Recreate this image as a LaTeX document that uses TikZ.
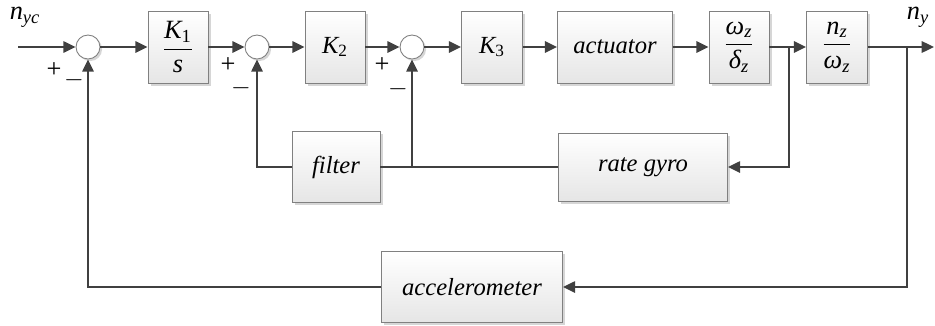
\documentclass[tikz,border=0pt]{standalone}
\usepackage{amsmath}
\usepackage{fontspec}
\setmainfont{Liberation Serif}
\usetikzlibrary{arrows.meta,positioning,calc,shadows}

\tikzset{
  block/.style={draw=black!50, line width=0.5pt, top color=white, bottom color=black!10,
    drop shadow={shadow xshift=1.6pt, shadow yshift=-1.6pt, fill=black!40, opacity=0.4},
    minimum height=1.44cm, inner sep=0pt, font=\fontsize{14}{16}\selectfont\itshape},
  fracblock/.style={block, font=\fontsize{15}{17}\selectfont\itshape},
  sumnode/.style={circle, draw=black!50, line width=0.5pt, fill=white, minimum size=0.48cm, inner sep=0pt,
    drop shadow={shadow xshift=1.2pt, shadow yshift=-1.2pt, fill=black!40, opacity=0.4}},
  conn/.style={draw=black!75, line width=1.1pt, -{Triangle[length=7pt,width=6.5pt]}},
  wire/.style={draw=black!75, line width=1.1pt},
  sign/.style={inner sep=0pt, font=\fontsize{15}{17}\selectfont},
  sig/.style={inner sep=0pt, font=\fontsize{15}{17}\selectfont\itshape}
}

\begin{document}
\begin{tikzpicture}[x=0.02cm, y=-0.02cm]
    \useasboundingbox (0,0) rectangle (935,325);

    % Forward path
    \coordinate (in) at (18,47);
    \node[sumnode] (s1) at (88,47) {};
    \node[fracblock, minimum width=1.2cm] (k1) at (178,47) {$\dfrac{\text{K\textsubscript{\upshape 1}}}{\text{s}}$};
    \node[sumnode] (s2) at (257,47) {};
    \node[block, minimum width=1.2cm] (k2) at (335,47) {K\textsubscript{\upshape 2}};
    \node[sumnode] (s3) at (412,47) {};
    \node[block, minimum width=1.22cm] (k3) at (492,47) {K\textsubscript{\upshape 3}};
    \node[block, minimum width=2.3cm] (act) at (615,47) {actuator};
    \node[fracblock, minimum width=1.2cm] (wd) at (739,47) {$\dfrac{\text{ω\textsubscript{z}}}{\text{δ\textsubscript{z}}}$};
    \node[fracblock, minimum width=1.22cm] (nw) at (837,47) {$\dfrac{\text{n\textsubscript{z}}}{\text{ω\textsubscript{z}}}$};
    \coordinate (out) at (934,47);
    \coordinate (b1) at (789,47);
    \coordinate (b2) at (907,47);

    % Feedback blocks
    \node[block, minimum width=1.76cm, minimum height=1.42cm] (filt) at (336,167) {filter};
    \node[block, minimum width=3.38cm, minimum height=1.36cm] (rg) at (643,167) {rate gyro};
    \node[block, minimum width=3.62cm, minimum height=1.42cm] (acc) at (472,287) {accelerometer};
    \coordinate (j) at (s3 |- filt);

    % Signals and signs
    \node[sig] (nyc) at (25,17) {n\textsubscript{yc}};
    \node[sig] (ny) at (918,17) {n\textsubscript{y}};
    \node[sign] (p1) at (54,70) {+};
    \node[sign] (m1) at (74,80) {$-$};
    \node[sign] (p2) at (228,65) {+};
    \node[sign] (m2) at (241,88) {$-$};
    \node[sign] (p3) at (382,65) {+};
    \node[sign] (m3) at (398,89) {$-$};

    % Connections
    \draw[conn] (in) -- (s1);
    \draw[conn] (s1) -- (k1);
    \draw[conn] (k1) -- (s2);
    \draw[conn] (s2) -- (k2);
    \draw[conn] (k2) -- (s3);
    \draw[conn] (s3) -- (k3);
    \draw[conn] (k3) -- (act);
    \draw[conn] (act) -- (wd);
    \draw[conn] (wd) -- (nw);
    \draw[conn] (nw) -- (out);

    % Inner loops
    \draw[conn] (b1) |- (rg);
    \draw[wire] (rg) -- (filt);
    \draw[conn] (j) -- (s3);
    \draw[conn] (filt) -| (s2);

    % Outer loop
    \draw[conn] (b2) |- (acc);
    \draw[conn] (acc) -| (s1);
\end{tikzpicture}
\end{document}
